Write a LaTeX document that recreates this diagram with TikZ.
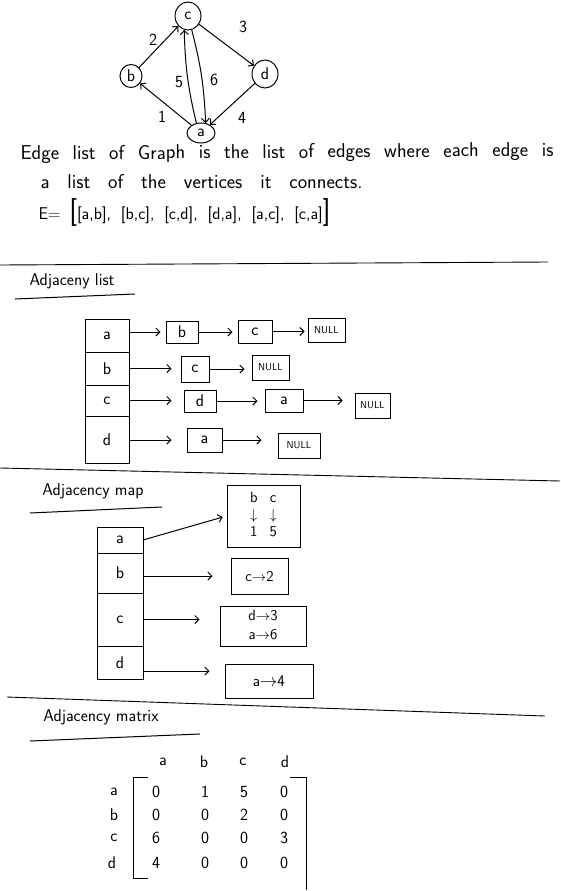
\documentclass[tikz,border=0pt]{standalone}
\usepackage{fontspec}
\usetikzlibrary{arrows.meta,shapes.geometric}
\newcommand{\myfs}[1]{\fontsize{#1}{#1}\selectfont}
\begin{document}
\begin{tikzpicture}[x=1pt,y=-1pt,line width=1pt,
  every node/.style={font=\sffamily\myfs{17}},
  ar/.style={-{Straight Barb[length=4pt,width=8pt,line width=1pt]}},
  vert/.style={ellipse,draw,inner sep=0pt},
  elab/.style={inner sep=1pt},
  txt/.style={anchor=base west,inner sep=0pt,font=\sffamily\myfs{20}},
  head/.style={inner sep=0pt,font=\sffamily\myfs{17}},
  cell/.style={draw,inner sep=0pt,outer sep=0pt,minimum width=44pt},
  lbox/.style={draw,inner sep=0pt},
  nullbox/.style={draw,inner sep=0pt,font=\sffamily\myfs{10}},
  sep/.style={line width=0.9pt},
  mval/.style={inner sep=0pt},
]
\useasboundingbox (0,0) rectangle (560,891);
% ---------- graph ----------
\node[vert,minimum width=26pt,minimum height=28pt] (c) at (188,16) {c};
\node[vert,minimum width=22pt,minimum height=23pt] (b) at (131,76) {b};
\node[vert,minimum width=26pt,minimum height=28pt] (d) at (265,74) {d};
\node[vert,minimum width=28pt,minimum height=20pt] (a) at (201,133) {a};
\draw[ar] (b) -- (c);
\draw[ar] (c) -- (d);
\draw[ar] (d) -- (a);
\draw[ar] (a) -- (b);
\draw[ar] (a.115) to[bend left=6] (c.255);
\draw[ar] (c.285) to[bend left=6] (a.65);
\node[elab] (w2) at (153,40) {2};
\node[elab] (w3) at (243,27) {3};
\node[elab] (w5) at (179,82) {5};
\node[elab] (w6) at (214,80) {6};
\node[elab] (w1) at (162,117) {1};
\node[elab] (w4) at (242,118) {4};
% ---------- text ----------
\node[txt,rotate=0.4] (t1) at (20,160) {\makebox[533pt][s]{Edge list of Graph is the list of edges where each edge is}};
\node[txt] (t2) at (40,188) {\makebox[322pt][s]{a list of the vertices it connects.}};
\node[txt,font=\sffamily\myfs{17}] (t3) at (38,219) {\makebox[292pt][s]{E= {\myfs{28}[}[a,b], [b,c], [c,d], [d,a], [a,c], [c,a]{\myfs{28}]}}};
\draw[sep] (0,265) -- (548,262);
% ---------- adjacency list ----------
\node[head] (h1) at (72,281) {Adjaceny list};
\draw (15,299) -- (135,294);
\node[cell,minimum height=33pt] (ta) at (107,335.5) {a};
\node[cell,minimum height=33pt] (tb) at (107,368.5) {b};
\node[cell,minimum height=31pt] (tc) at (107,400.5) {c};
\node[cell,minimum height=47pt] (td) at (107,439.5) {d};
\node[lbox,minimum width=32pt,minimum height=22pt] (ab) at (182,332) {b};
\node[lbox,minimum width=34pt,minimum height=23pt] (ac) at (255,331.5) {c};
\node[nullbox,minimum width=37pt,minimum height=24pt] (an) at (326.5,330) {NULL};
\node[lbox,minimum width=28pt,minimum height=26pt] (bc) at (195,369) {c};
\node[nullbox,minimum width=37pt,minimum height=25pt] (bn) at (270.5,367.5) {NULL};
\node[lbox,minimum width=32pt,minimum height=22pt] (cd) at (200,401) {d};
\node[lbox,minimum width=38pt,minimum height=23pt] (ca) at (284,400.5) {a};
\node[nullbox,minimum width=35pt,minimum height=25pt] (cn) at (372.5,405.5) {NULL};
\node[lbox,minimum width=35pt,minimum height=24pt] (da) at (204.5,440) {a};
\node[nullbox,minimum width=42pt,minimum height=25pt] (dn) at (299,445.5) {NULL};
\draw[ar,shorten >=5pt] (ta.east|-ab) -- (ab.west);
\draw[ar,shorten >=5pt] (ab.east) -- (ab.east-|ac.west);
\draw[ar,shorten >=3pt] (ac.east) -- (ac.east-|an.west);
\draw[ar,shorten >=9pt] (tb.east) -- (tb.east-|bc.west);
\draw[ar,shorten >=7pt] (bc.east) -- (bc.east-|bn.west);
\draw[ar,shorten >=12pt] (tc.east) -- (tc.east-|cd.west);
\draw[ar,shorten >=7pt] (cd.east) -- (cd.east-|ca.west);
\draw[ar,shorten >=12pt] (ca.east) -- (ca.east-|cn.west);
\draw[ar,shorten >=15pt] (td.east|-da) -- (da.west);
\draw[ar,shorten >=16pt] (da.east) -- (da.east-|dn.west);
\draw[sep] (0,468) -- (560,481);
% ---------- adjacency map ----------
\node[head] (h2) at (93,491) {Adjacency map};
\draw (30,513) -- (162,507);
\node[cell,minimum width=46pt,minimum height=26pt] (ma) at (120,540) {a};
\node[cell,minimum width=46pt,minimum height=40pt] (mb) at (120,573) {b};
\node[cell,minimum width=46pt,minimum height=53pt] (mc) at (120,619.5) {c};
\node[cell,minimum width=46pt,minimum height=33pt] (md) at (120,662.5) {d};
\node[lbox,minimum width=73pt,minimum height=62pt,font=\sffamily\fontsize{15}{17}\selectfont] (mA) at (263.5,516)
  {\begin{tabular}{@{}c@{\hspace{12pt}}c@{}}b&c\\$\downarrow$&$\downarrow$\\1&5\end{tabular}};
\node[lbox,minimum width=57pt,minimum height=36pt,font=\sffamily\myfs{15}] (mB) at (259.5,576) {c$\rightarrow$2};
\node[lbox,minimum width=86pt,minimum height=40pt,font=\sffamily\fontsize{15}{19}\selectfont] (mC) at (263,626)
  {\begin{tabular}{@{}c@{}}d$\rightarrow$3\\a$\rightarrow$6\end{tabular}};
\node[lbox,minimum width=88pt,minimum height=34pt,font=\sffamily\myfs{16}] (mD) at (269,681) {a$\rightarrow$4};
\coordinate (mdo) at (143,671);
\draw[ar,shorten >=4pt] (ma.east) -- (mA.west);
\draw[ar,shorten >=18pt] (mb.east|-mB) -- (mB.west);
\draw[ar,shorten >=20pt] (mc.east) -- (mc.east-|mC.west);
\draw[ar,shorten >=15pt] (mdo) -- (mdo-|mD.west);
\draw[sep] (7,697) -- (545,716);
% ---------- adjacency matrix ----------
\node[head] (h3) at (101,717) {Adjacency matrix};
\draw (30,741) -- (200,734);
\node[mval] (ha) at (163,762) {a};
\node[mval] (hb) at (204,762) {b};
\node[mval] (hc) at (243,762) {c};
\node[mval] (hd) at (285,762) {d};
\node[mval] (ra) at (114,792) {a};
\node[mval] (rb) at (114,815) {b};
\node[mval] (rc) at (114,838) {c};
\node[mval] (rd) at (112,863) {d};
\node[mval] (v11) at (156,792) {0};
\node[mval] (v12) at (205,792) {1};
\node[mval] (v13) at (244,792) {5};
\node[mval] (v14) at (284,792) {0};
\node[mval] (v21) at (156,815) {0};
\node[mval] (v22) at (205,815) {0};
\node[mval] (v23) at (244,815) {2};
\node[mval] (v24) at (284,815) {0};
\node[mval] (v31) at (156,838) {6};
\node[mval] (v32) at (205,838) {0};
\node[mval] (v33) at (244,838) {0};
\node[mval] (v34) at (284,838) {3};
\node[mval] (v41) at (156,863) {4};
\node[mval] (v42) at (205,863) {0};
\node[mval] (v43) at (244,863) {0};
\node[mval] (v44) at (284,863) {0};
\draw (148,777) -- (133,777) -- (133,878) -- (148,878);
\draw (290,777) -- (306,777) -- (306,890);
\end{tikzpicture}
\end{document}
